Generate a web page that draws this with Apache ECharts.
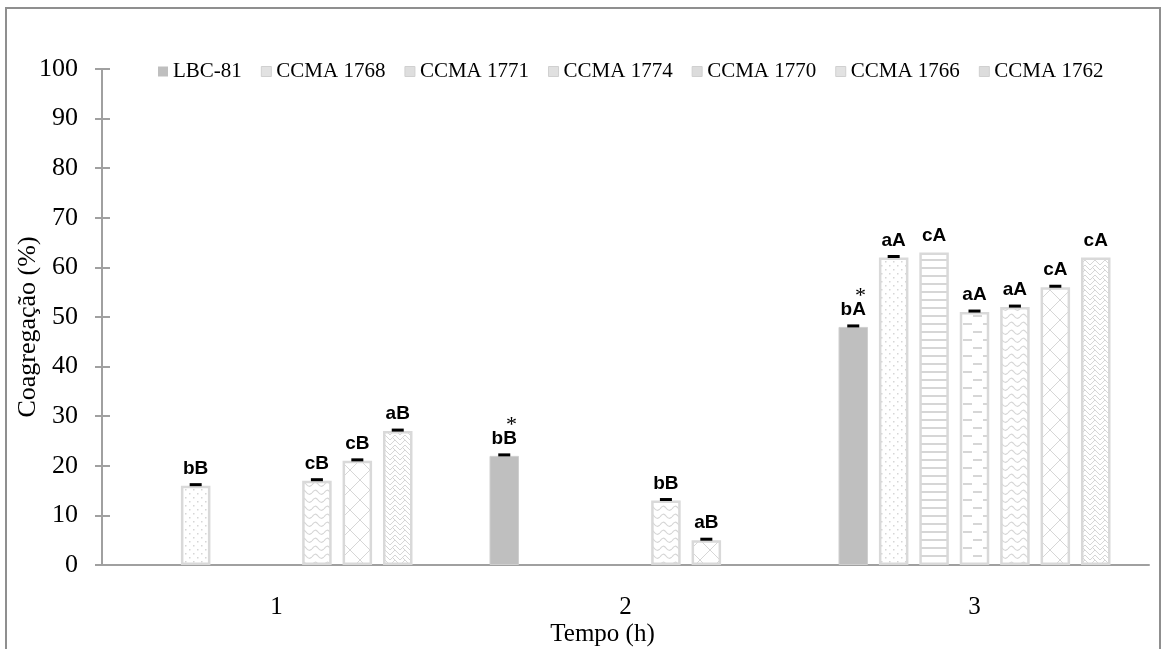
<!DOCTYPE html>
<html>
<head>
<meta charset="utf-8">
<title>Coagregação</title>
<script src="https://cdn.jsdelivr.net/npm/echarts@6/dist/echarts.min.js"></script>
<style>
  html, body { margin: 0; padding: 0; background: #fff; }
  #chart { width: 1169px; height: 649px; }
</style>
</head>
<body>
<div id="chart"></div>
<script>
// Tempo (h)
const categories = ['1', '2', '3'];
const seriesNames = ['LBC-81', 'CCMA 1768', 'CCMA 1771', 'CCMA 1774', 'CCMA 1770', 'CCMA 1766', 'CCMA 1762'];

// Coagregação (%) per strain, one entry per time point
const valLBC81   = [null, 22, 48];
const val1768    = [16, null, 62];
const val1771    = [null, null, 63];
const val1774    = [null, null, 51];
const val1770    = [17, 13, 52];
const val1766    = [21, 5, 56];
const val1762    = [27, null, 62];

// standard deviations (null = no error bar drawn)
const errLBC81   = [null, 0.2, 0.2];
const err1768    = [0.2, null, 0.2];
const err1771    = [null, null, null];
const err1774    = [null, null, 0.2];
const err1770    = [0.2, 0.2, 0.2];
const err1766    = [0.2, 0.2, 0.2];
const err1762    = [0.2, null, null];

// significance letters above each bar ('*' marks the LBC-81 difference)
const lblLBC81   = [null, 'bB*', 'bA*'];
const lbl1768    = ['bB', null, 'aA'];
const lbl1771    = [null, null, 'cA'];
const lbl1774    = [null, null, 'aA'];
const lbl1770    = ['cB', 'bB', 'aA'];
const lbl1766    = ['cB', 'aB', 'cA'];
const lbl1762    = ['aB', null, 'cA'];

const yTicks = { min: 0, max: 100, interval: 10 };

const allValues = [valLBC81, val1768, val1771, val1774, val1770, val1766, val1762];
const allErrors = [errLBC81, err1768, err1771, err1774, err1770, err1766, err1762];
const allLabels = [lblLBC81, lbl1768, lbl1771, lbl1774, lbl1770, lbl1766, lbl1762];

// ---------- fill patterns ----------
const PAT = '#d6d6d6';
function tile(w, h, draw) {
  const c = document.createElement('canvas');
  c.width = w; c.height = h;
  const g = c.getContext('2d');
  g.fillStyle = '#fff';
  g.fillRect(0, 0, w, h);
  g.strokeStyle = PAT;
  g.fillStyle = PAT;
  draw(g, w, h);
  return c;
}
const patterns = [
  null,
  // small dots
  tile(8, 8, g => { g.fillRect(1, 1, 1.5, 1.5); g.fillRect(5, 5, 1.5, 1.5); }),
  // wide horizontal lines
  tile(8, 8, g => { g.fillRect(0, 3, 8, 2); }),
  // dashed horizontal
  tile(20, 16, g => { g.fillRect(3, 3, 9, 2); g.fillRect(13, 11, 9, 2); g.fillRect(-7, 11, 9, 2); }),
  // wave
  tile(12, 8, g => {
    g.lineWidth = 1.2;
    g.beginPath();
    g.moveTo(0, 5); g.quadraticCurveTo(3, 0, 6, 4); g.quadraticCurveTo(9, 8, 12, 5);
    g.stroke();
  }),
  // large diagonal cross
  tile(20, 20, g => {
    g.lineWidth = 1;
    g.beginPath();
    g.moveTo(0, 0); g.lineTo(20, 20);
    g.moveTo(20, 0); g.lineTo(0, 20);
    g.stroke();
  }),
  // zigzag weave
  tile(10, 10, g => {
    g.lineWidth = 1;
    g.beginPath();
    g.moveTo(0, 5); g.lineTo(5, 0); g.lineTo(10, 5);
    g.moveTo(0, 10); g.lineTo(5, 5); g.lineTo(10, 10);
    g.moveTo(2.5, 7.5); g.lineTo(5, 10);
    g.stroke();
  })
];

const BAR_W = 29.5;
const BAR_GAP = 0.37;
const STEP = BAR_W * (1 + BAR_GAP);

const barSeries = seriesNames.map((name, si) => {
  const isSolid = si === 0;
  return {
    name,
    type: 'bar',
    barWidth: BAR_W,
    barGap: (BAR_GAP * 100) + '%',
    data: allValues[si].map((v, ci) => ({
      value: v,
      label: {
        show: v != null && allLabels[si][ci] != null,
        formatter: () => {
          const t = allLabels[si][ci] || '';
          // the asterisk sits above the right end of the letters
          return t.endsWith('*') ? '{s|*}\n{t|' + t.slice(0, -1) + '}' : '{t|' + t + '}';
        }
      }
    })),
    itemStyle: isSolid
      ? { color: '#bfbfbf', borderColor: '#cfcfcf', borderWidth: 1 }
      : { color: { image: patterns[si], repeat: 'repeat' }, borderColor: '#d9d9d9', borderWidth: 2.5 },
    label: {
      position: 'top',
      distance: 7,
      rich: {
        t: { fontFamily: 'Liberation Sans', fontWeight: 'bold', fontSize: 19, color: '#000', lineHeight: 20 },
        s: { fontFamily: 'Liberation Serif', fontSize: 22, color: '#000', lineHeight: 8, align: 'right' }
      }
    },
    emphasis: { disabled: true }
  };
});

// error-bar caps, placed on the same slot as their bar
const capData = [];
allValues.forEach((vals, si) => {
  vals.forEach((v, ci) => {
    const e = allErrors[si][ci];
    if (v != null && e != null) capData.push([ci, si, v, e]);
  });
});

const capSeries = {
  type: 'custom',
  z: 5,
  silent: true,
  data: capData,
  encode: { x: 0, y: 2 },
  renderItem: (params, api) => {
    const ci = api.value(0), si = api.value(1), v = api.value(2), e = api.value(3);
    const p = api.coord([ci, v + e]);
    const x = p[0] + (si - 3) * STEP;
    return {
      type: 'rect',
      shape: { x: x - 6, y: p[1] - 1.5, width: 12, height: 3 },
      style: { fill: '#000' }
    };
  }
};

const legendIcon = ['#bfbfbf', '#e2e2e2', '#dedede', '#e0e0e0', '#dcdcdc', '#e2e2e2', '#dcdcdc'];

const serif = 'Liberation Serif';
const chart = echarts.init(document.getElementById('chart'), null, { renderer: 'canvas' });
chart.setOption({
  animation: false,
  backgroundColor: '#fff',
  graphic: [{
    type: 'rect',
    shape: { x: 6, y: 8, width: 1154, height: 660 },
    style: { fill: 'none', stroke: '#8f8f8f', lineWidth: 2 },
    silent: true
  }],
  legend: {
    data: seriesNames.map((n, i) => ({
      name: n,
      itemStyle: { color: legendIcon[i], borderColor: '#d0d0d0', borderWidth: i === 0 ? 0 : 1 }
    })),
    left: 153,
    top: 56,
    itemWidth: 10,
    itemHeight: 10,
    itemGap: 19,
    icon: 'rect',
    textStyle: { fontFamily: serif, fontSize: 21, color: '#000' }
  },
  grid: { left: 102, right: 20, top: 69, bottom: 84, containLabel: false, outerBoundsMode: 'none' },
  xAxis: {
    type: 'category',
    data: categories,
    axisLine: { lineStyle: { color: '#a0a0a0', width: 2 } },
    axisTick: { show: false },
    axisLabel: { fontFamily: serif, fontSize: 25, color: '#000', margin: 30 },
    name: 'Tempo (h)',
    nameLocation: 'middle',
    nameGap: 57,
    nameMoveOverlap: false,
    nameTextStyle: { fontFamily: serif, fontSize: 25, color: '#000', padding: [0, 46, 0, 0] }
  },
  yAxis: [{
    type: 'value',
    min: yTicks.min, max: yTicks.max, interval: yTicks.interval,
    axisLine: { show: true, lineStyle: { color: '#a0a0a0', width: 2 } },
    axisTick: { show: true, length: 7, lineStyle: { color: '#a0a0a0', width: 2 } },
    splitLine: { show: false },
    axisLabel: { fontFamily: serif, fontSize: 26, color: '#000', margin: 24 },
    name: 'Coagregação (%)',
    nameLocation: 'middle',
    nameGap: 61,
    nameMoveOverlap: false,
    nameTextStyle: { fontFamily: serif, fontSize: 26, color: '#000', padding: [0, 20, 0, 0] }
  }, {
    type: 'value',
    position: 'left',
    min: yTicks.min, max: yTicks.max, interval: yTicks.interval,
    axisLine: { show: true, lineStyle: { color: '#a0a0a0', width: 2 } },
    axisTick: { show: true, inside: true, length: 8, lineStyle: { color: '#a0a0a0', width: 2 } },
    axisLabel: { show: false },
    splitLine: { show: false }
  }],
  series: [...barSeries, capSeries]
});
</script>
</body>
</html>
